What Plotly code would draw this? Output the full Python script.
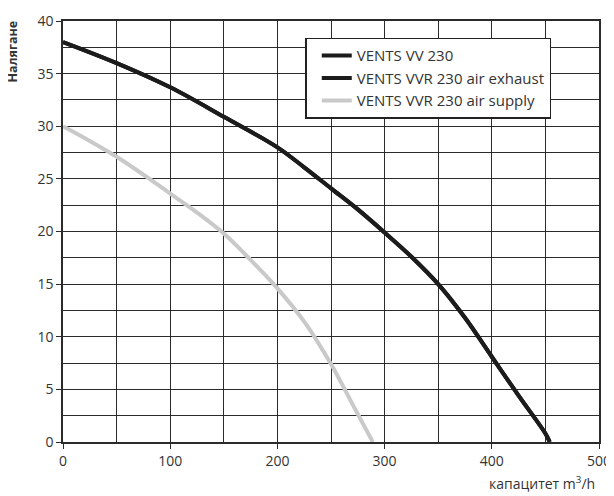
import plotly.graph_objects as go

# Data
vv230_x = [0, 50, 100, 150, 200, 225, 250, 275, 300, 325, 350, 375, 400, 425, 450, 454]
vv230_y = [38, 36, 33.7, 30.9, 28.0, 26.1, 24.1, 22.1, 19.9, 17.6, 15.0, 11.8, 8.1, 4.4, 0.8, 0]

exhaust_x = vv230_x
exhaust_y = vv230_y

supply_x = [0, 25, 50, 75, 100, 125, 150, 175, 200, 226, 250, 270, 289]
supply_y = [30, 28.6, 27.1, 25.4, 23.6, 21.8, 19.8, 17.3, 14.6, 11.3, 7.4, 3.6, 0]

series_names = ["VENTS VV 230", "VENTS VVR 230 air exhaust", "VENTS VVR 230 air supply"]
x_ticks = [0, 100, 200, 300, 400, 500]
y_ticks = [0, 5, 10, 15, 20, 25, 30, 35, 40]

FONT = "Open Sans, Noto Sans, sans-serif"
GRID = "#2b2b2b"

fig = go.Figure()
fig.add_trace(go.Scatter(x=vv230_x, y=vv230_y, mode="lines", name=series_names[0],
                         line=dict(color="#1c1c1c", width=4, shape="spline", smoothing=1.0)))
fig.add_trace(go.Scatter(x=exhaust_x, y=exhaust_y, mode="lines", name=series_names[1],
                         line=dict(color="#1c1c1c", width=4, shape="spline", smoothing=1.0)))
fig.add_trace(go.Scatter(x=supply_x, y=supply_y, mode="lines", name=series_names[2],
                         line=dict(color="#c9c9c9", width=4, shape="spline", smoothing=1.0)))

# page body has an 8px default margin, so the figure is sized/offset to compensate
fig.update_layout(
    width=606, height=488,
    margin=dict(l=55, r=3, t=6, b=54),
    paper_bgcolor="white", plot_bgcolor="white",
    font=dict(family=FONT, size=14, color="#333333"),
    showlegend=True,
    legend=dict(x=0.452, y=0.96, xanchor="left", yanchor="top",
                bgcolor="white", bordercolor="#222222", borderwidth=1.5,
                font=dict(family=FONT, size=15, color="#333333"),
                tracegroupgap=0, itemwidth=30, indentation=10),
    xaxis=dict(range=[0, 500], tickvals=x_ticks, ticks="outside", ticklen=5,
               tickcolor=GRID, showline=True, linecolor=GRID, linewidth=1.5, mirror=True,
               showgrid=True, gridcolor=GRID, gridwidth=1, ticklabeloverflow="allow",
               minor=dict(dtick=50, showgrid=True, gridcolor=GRID, gridwidth=1),
               zeroline=False, fixedrange=True),
    yaxis=dict(range=[0, 40], tickvals=y_ticks, ticks="outside", ticklen=5,
               tickcolor=GRID, showline=True, linecolor=GRID, linewidth=1.5, mirror=True,
               showgrid=True, gridcolor=GRID, gridwidth=1, ticklabeloverflow="allow",
               minor=dict(dtick=2.5, showgrid=True, gridcolor=GRID, gridwidth=1),
               zeroline=False, fixedrange=True),
    annotations=[
        dict(text="<b>Налягане</b>", xref="paper", yref="paper", x=-0.095, y=1.006,
             xanchor="center", yanchor="top", textangle=-90, showarrow=False,
             font=dict(family=FONT, size=12.5, color="#333333")),
        dict(text="капацитет m<sup>3</sup>/h", xref="paper", yref="paper", x=0.997, y=-0.07,
             xanchor="right", yanchor="top", showarrow=False,
             font=dict(family=FONT, size=14, color="#333333")),
    ],
)

fig.write_html("out.html")
